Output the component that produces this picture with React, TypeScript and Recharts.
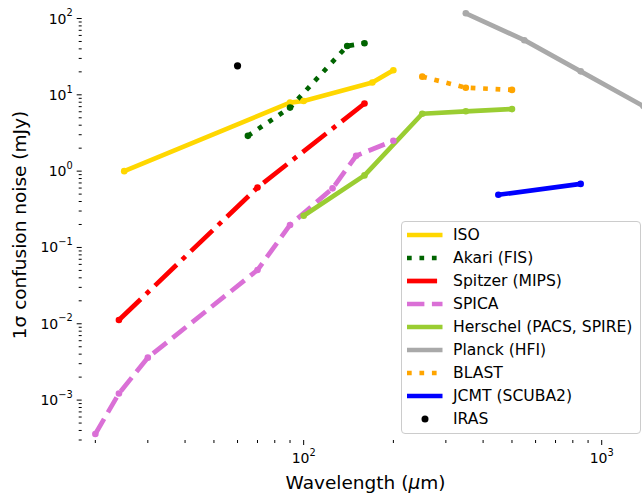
import React from 'react';
import { ComposedChart, Line, XAxis, YAxis, Legend, ReferenceArea } from 'recharts';

// wavelengths (um) and 1-sigma confusion noise (mJy) per instrument
const isoWave = [25, 90, 100, 170, 200];
const isoNoise = [1.0, 7.9, 8.3, 14.5, 21];
const akariWave = [65, 90, 140, 160];
const akariNoise = [2.9, 6.8, 43.6, 47.5];
const spitzerWave = [24, 70, 160];
const spitzerNoise = [0.0112, 0.61, 7.7];
const spicaWave = [20, 24, 30, 70, 90, 125, 150, 200];
const spicaNoise = [0.00036, 0.00122, 0.0036, 0.0506, 0.197, 0.595, 1.59, 2.5];
const herschelWave = [100, 160, 250, 350, 500];
const herschelNoise = [0.26, 0.88, 5.65, 6.08, 6.5];
const planckWave = [350, 550, 850, 1380];
const planckNoise = [117, 52, 20.3, 7.1];
const blastWave = [250, 350, 500];
const blastNoise = [17.3, 12.4, 11.6];
const jcmtWave = [450, 850];
const jcmtNoise = [0.49, 0.68];
const irasWave = [60];
const irasNoise = [24];

const X_DOMAIN = [18, 1430];
const Y_DOMAIN = [3e-4, 132];

const LW = 4.7;

const pts = (xs: number[], ys: number[]) => xs.map((x, i) => ({ x, y: ys[i] }));

const series = [
  { name: 'ISO', color: '#FFD700', dash: undefined, data: pts(isoWave, isoNoise) },
  { name: 'Akari (FIS)', color: '#006400', dash: `${LW} ${LW * 1.65}`, data: pts(akariWave, akariNoise) },
  { name: 'Spitzer (MIPS)', color: '#FF0000', dash: `${LW * 6.4} ${LW * 1.6} ${LW} ${LW * 1.6}`, data: pts(spitzerWave, spitzerNoise) },
  { name: 'SPICA', color: '#DA70D6', dash: `${LW * 3.7} ${LW * 1.6}`, data: pts(spicaWave, spicaNoise) },
  { name: 'Herschel (PACS, SPIRE)', color: '#9ACD32', dash: undefined, data: pts(herschelWave, herschelNoise) },
  { name: 'Planck (HFI)', color: '#A9A9A9', dash: undefined, data: pts(planckWave, planckNoise) },
  { name: 'BLAST', color: '#FFA500', dash: `${LW} ${LW * 1.65}`, data: pts(blastWave, blastNoise) },
  { name: 'JCMT (SCUBA2)', color: '#0000FF', dash: undefined, data: pts(jcmtWave, jcmtNoise) },
];

const FONT = 'DejaVu Sans, sans-serif';

// log ticks: 1..9 x 10^d inside the domain (majors get labels)
function logTicks(lo: number, hi: number) {
  const out: number[] = [];
  for (let d = -5; d <= 4; d++) {
    for (let k = 1; k <= 9; k++) {
      const v = k * Math.pow(10, d);
      if (v >= lo && v <= hi) out.push(v);
    }
  }
  return out;
}

const xTicks = logTicks(X_DOMAIN[0], X_DOMAIN[1]);
const yTicks = logTicks(Y_DOMAIN[0], Y_DOMAIN[1]);

const isMajor = (v: number) => Math.abs(Math.log10(v) - Math.round(Math.log10(v))) < 1e-6;
const expOf = (v: number) => {
  const e = Math.round(Math.log10(v));
  return e < 0 ? `\u2212${-e}` : `${e}`;
};

const XTick = (props: any) => {
  const { x, y, payload } = props;
  const major = isMajor(payload.value);
  return (
    <g>
      <line x1={x} x2={x} y1={y} y2={y + (major ? 5 : 3)} stroke="#000" strokeWidth={1} />
      {major && (
        <text x={x} y={y + 23.3} textAnchor="middle" fontFamily={FONT} fontSize={14} fill="#000">
          10<tspan fontSize={9.8} dy={-7.3}>{expOf(payload.value)}</tspan>
        </text>
      )}
    </g>
  );
};

const YTick = (props: any) => {
  const { x, y, payload } = props;
  const major = isMajor(payload.value);
  return (
    <g>
      <line x1={x} x2={x - (major ? 5 : 3)} y1={y} y2={y} stroke="#000" strokeWidth={1} />
      {major && (
        <text x={x - 9} y={y + 5} textAnchor="end" fontFamily={FONT} fontSize={14} fill="#000">
          10<tspan fontSize={9.8} dy={-7.3}>{expOf(payload.value)}</tspan>
        </text>
      )}
    </g>
  );
};

const LegendBox = () => {
  const rows = [...series.map((s) => ({ name: s.name, color: s.color, dash: s.dash, dot: false })), { name: 'IRAS', color: '#000', dash: undefined, dot: true }];
  return (
    <div
      style={{
        width: 240,
        height: 213,
        boxSizing: 'border-box',
        border: '1px solid #cccccc',
        borderRadius: 4,
        background: 'rgba(255,255,255,0.8)',
        fontFamily: FONT,
        fontSize: 15.6,
        color: '#000',
        paddingTop: 1,
      }}
    >
      {rows.map((r) => (
        <div key={r.name} style={{ height: 23.1, display: 'flex', alignItems: 'center' }}>
          <svg width={50} height={16} style={{ flex: 'none' }}>
            {r.dot ? (
              <circle cx={23} cy={8} r={3.5} fill={r.color} />
            ) : (
              <line x1={5} x2={40.5} y1={8} y2={8} stroke={r.color} strokeWidth={LW} strokeDasharray={r.dash} />
            )}
          </svg>
          <span style={{ whiteSpace: 'nowrap', marginLeft: 1 }}>{r.name}</span>
        </div>
      ))}
    </div>
  );
};

export default function App() {
  return (
    <div style={{ position: 'fixed', left: 0, top: 0, width: 642, height: 493, overflow: 'hidden', background: '#fff' }}>
      <ComposedChart width={648} height={493} margin={{ top: 9.3, right: 0, bottom: 0, left: 0 }}>
        <XAxis
          dataKey="x"
          type="number"
          scale="log"
          domain={X_DOMAIN}
          allowDataOverflow
          ticks={xTicks}
          interval={0}
          tick={<XTick />}
          tickLine={false}
          tickSize={0}
          tickMargin={0}
          axisLine={false}
          height={53}
        />
        <YAxis
          dataKey="y"
          type="number"
          scale="log"
          domain={Y_DOMAIN}
          allowDataOverflow
          ticks={yTicks}
          interval={0}
          tick={<YTick />}
          tickLine={false}
          tickSize={0}
          tickMargin={0}
          axisLine={false}
          width={81.7}
        />
        {series.map((s) => (
          <Line
            key={s.name}
            data={s.data}
            dataKey="y"
            name={s.name}
            stroke={s.color}
            strokeWidth={LW}
            strokeDasharray={s.dash}
            strokeLinejoin="round"
            dot={{ r: 3.3, fill: s.color, stroke: 'none', strokeDasharray: undefined }}
            activeDot={false}
            isAnimationActive={false}
          />
        ))}
        <Line
          data={pts(irasWave, irasNoise)}
          dataKey="y"
          name="IRAS"
          stroke="none"
          dot={{ r: 3.6, fill: '#000', stroke: 'none' }}
          activeDot={false}
          isAnimationActive={false}
        />
        <ReferenceArea fill="none" stroke="#000" strokeWidth={1} ifOverflow="visible" />
        <Legend
          layout="vertical"
          align="center"
          verticalAlign="middle"
          content={<LegendBox />}
          wrapperStyle={{ position: 'absolute', left: 401, top: 221, width: 240, height: 213 }}
        />
      </ComposedChart>
      <div
        style={{
          position: 'absolute',
          left: 18.5,
          top: 224.5,
          transform: 'translate(-50%, -50%) rotate(-90deg)',
          whiteSpace: 'nowrap',
          fontFamily: FONT,
          fontSize: 18.5,
        }}
      >
        1σ confusion noise (mJy)
      </div>
      <div
        style={{
          position: 'absolute',
          left: 365.5,
          top: 482,
          transform: 'translate(-50%, -50%)',
          whiteSpace: 'nowrap',
          fontFamily: FONT,
          fontSize: 18.5,
        }}
      >
        Wavelength (<i>μ</i>m)
      </div>
    </div>
  );
}
